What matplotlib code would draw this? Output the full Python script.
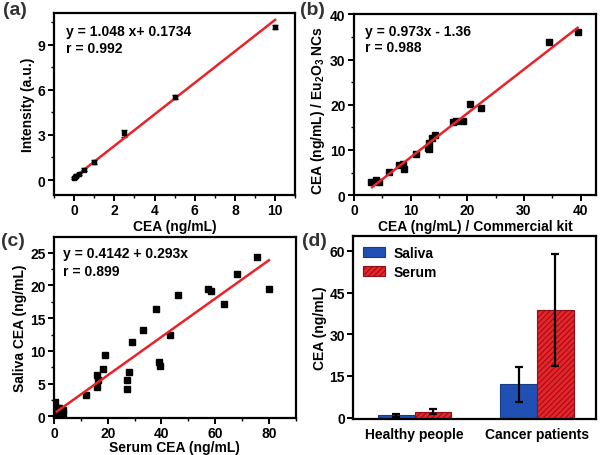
import matplotlib as mpl
import matplotlib.pyplot as plt
import numpy as np
from matplotlib.ticker import AutoMinorLocator

plt.rcParams['font.family'] = ['Liberation Sans', 'DejaVu Sans']
plt.rcParams['font.weight'] = 'bold'
plt.rcParams['axes.labelweight'] = 'bold'
plt.rcParams['mathtext.fontset'] = 'custom'
plt.rcParams['mathtext.bf'] = 'Liberation Sans:bold'
plt.rcParams['mathtext.rm'] = 'Liberation Sans:bold'
plt.rcParams['mathtext.default'] = 'bf'
plt.rcParams['font.size'] = 10
plt.rcParams['hatch.linewidth'] = 0.7

RED = '#e8242a'

# (a) calibration
a_x = [0, 0.05, 0.1, 0.25, 0.5, 1, 2.5, 5, 10]
a_y = [0.15, 0.22, 0.3, 0.4, 0.7, 1.22, 3.1, 5.52, 10.17]
a_err = [0.08, 0.08, 0.08, 0.08, 0.1, 0.12, 0.25, 0.15, 0.15]

# (b) method comparison
b_x = [2.95, 3.95, 4.4, 6.2, 8.0, 8.7, 8.85, 10.9, 13.0, 13.3, 13.2, 13.7,
       14.3, 17.5, 18.0, 19.2, 20.5, 22.4, 34.4, 39.5]
b_y = [2.8, 3.3, 3.0, 5.2, 6.7, 6.9, 5.8, 9.1, 10.4, 10.2, 11.6, 12.6,
       13.3, 16.1, 16.3, 16.4, 20.2, 19.3, 33.9, 36.2]

# (c) serum vs saliva
c_x = [75.4, 80.2, 68.2, 57.5, 58.5, 63.3, 46.3, 37.9, 33.3, 43.2, 29.2,
       18.9, 18.2, 16.0, 16.2, 16.0, 11.8, 27.9, 27.0, 27.0, 38.9, 39.4,
       0.5, 1.0, 1.5, 2.0, 2.5, 3.0, 3.5, 1.2, 0.8, 2.2, 3.2, 0.3, 1.8, 2.8]
c_y = [24.4, 19.4, 21.7, 19.5, 19.2, 17.2, 18.6, 16.4, 13.2, 12.4, 11.3,
       9.4, 7.3, 6.3, 5.6, 4.5, 3.2, 6.8, 5.5, 4.2, 8.3, 7.7,
       2.2, 1.2, 0.8, 1.2, 0.5, 0.7, 0.3, 0.3, 0.6, 0.2, 1.0, 0.1, 0.5, 0.2]

# (d) group means
groups = ['Healthy people', 'Cancer patients']
saliva = [0.8, 12.0]
saliva_err = [0.4, 6.4]
serum = [2.2, 38.7]
serum_err = [0.9, 20.1]

fig = plt.figure(figsize=(6, 4.56), dpi=100)
ax_a = fig.add_axes([0.09, 0.570, 0.402, 0.399])
ax_b = fig.add_axes([0.59, 0.570, 0.403, 0.397])
ax_c = fig.add_axes([0.09, 0.082, 0.403, 0.396])
ax_d = fig.add_axes([0.589, 0.080, 0.404, 0.400])

for ax in (ax_a, ax_b, ax_c, ax_d):
    for s in ax.spines.values():
        s.set_linewidth(1.6)
    ax.tick_params(direction='out', width=1.4, length=4, labelsize=10, pad=2)
    ax.tick_params(which='minor', direction='out', width=1.0, length=2.5)

# (a)
ax_a.errorbar(a_x, a_y, yerr=a_err, fmt='s', color='k', ms=3.5,
              capsize=2, elinewidth=1, capthick=1)
xx = np.array([0, 10])
ax_a.plot(xx, 1.048*xx+0.1734, color=RED, lw=1.8)
ax_a.set_xlim(-1, 11)
ax_a.set_ylim(-1, 11.1)
ax_a.set_xticks([0, 2, 4, 6, 8, 10])
ax_a.set_yticks([0, 3, 6, 9])
ax_a.xaxis.set_minor_locator(AutoMinorLocator(2))
ax_a.yaxis.set_minor_locator(AutoMinorLocator(2))
ax_a.set_xlabel('CEA (ng/mL)', labelpad=1)
ax_a.set_ylabel('Intensity (a.u.)', labelpad=2)
ax_a.text(0.05, 0.90, 'y = 1.048 x+ 0.1734', transform=ax_a.transAxes,
          va='center', fontsize=10)
ax_a.text(0.05, 0.81, 'r = 0.992', transform=ax_a.transAxes,
          va='center', fontsize=10)

# (b)
ax_b.plot(b_x, b_y, 's', color='k', ms=4)
xx = np.array([3.2, 39.5])
ax_b.plot(xx, 0.973*xx-1.36, color=RED, lw=1.8)
ax_b.set_xlim(0, 42.7)
ax_b.set_ylim(0, 40.1)
ax_b.set_xticks([0, 10, 20, 30, 40])
ax_b.set_yticks([0, 10, 20, 30, 40])
ax_b.xaxis.set_minor_locator(AutoMinorLocator(2))
ax_b.yaxis.set_minor_locator(AutoMinorLocator(2))
ax_b.set_xlabel('CEA (ng/mL) / Commercial kit', labelpad=1)
ax_b.set_ylabel('CEA (ng/mL) / Eu$_2$O$_3$ NCs', labelpad=2, y=0.47)
ax_b.text(0.045, 0.906, 'y = 0.973x - 1.36', transform=ax_b.transAxes,
          va='center', fontsize=10)
ax_b.text(0.045, 0.818, 'r = 0.988', transform=ax_b.transAxes,
          va='center', fontsize=10)

# (c)
ax_c.plot(c_x, c_y, 's', color='k', ms=4)
xx = np.array([1, 80])
ax_c.plot(xx, 0.4142+0.293*xx, color=RED, lw=1.8)
ax_c.set_xlim(0, 90)
ax_c.set_ylim(-0.2, 27.4)
ax_c.set_xticks([0, 20, 40, 60, 80])
ax_c.set_yticks([0, 5, 10, 15, 20, 25])
ax_c.xaxis.set_minor_locator(AutoMinorLocator(2))
ax_c.yaxis.set_minor_locator(AutoMinorLocator(2))
ax_c.set_xlabel('Serum CEA (ng/mL)', labelpad=0)
ax_c.set_ylabel('Saliva CEA (ng/mL)', labelpad=2)
ax_c.text(0.037, 0.913, 'y = 0.4142 + 0.293x', transform=ax_c.transAxes,
          va='center', fontsize=10)
ax_c.text(0.037, 0.81, 'r = 0.899', transform=ax_c.transAxes,
          va='center', fontsize=10)

# (d)
pos = np.arange(len(groups))
w = 0.3
ax_d.bar(pos - w/2, saliva, w, color='#2150b4', edgecolor='#1a3a86',
         lw=0.8, label='Saliva')
ax_d.bar(pos + w/2, serum, w, color=RED, edgecolor='#8e1016',
         lw=0.8, hatch='//////', label='Serum')
ax_d.errorbar(pos - w/2, saliva, yerr=saliva_err, fmt='none', ecolor='k',
              capsize=3, elinewidth=1.6, capthick=1.6)
ax_d.errorbar(pos + w/2, serum, yerr=serum_err, fmt='none', ecolor='k',
              capsize=3, elinewidth=1.6, capthick=1.6)
ax_d.set_xlim(-0.5, 1.48)
ax_d.set_ylim(-0.3, 65.3)
ax_d.set_yticks([0, 15, 30, 45, 60])
ax_d.set_xticks(pos)
ax_d.set_xticklabels(groups)
ax_d.tick_params(axis='x', length=0, pad=6)
ax_d.set_ylabel('CEA (ng/mL)', labelpad=2)
ax_d.legend(loc='upper left', frameon=False, fontsize=10, handlelength=1.6,
            handleheight=0.8, borderaxespad=0.3, labelspacing=0.35,
            handletextpad=0.6, bbox_to_anchor=(0.0, 1.0))

# panel letters
for lbl, x, y in [('(a)', 0.005, 0.995), ('(b)', 0.50, 0.995),
                  ('(c)', 0.002, 0.49), ('(d)', 0.503, 0.49)]:
    fig.text(x, y, lbl, fontsize=14, fontweight='bold', color='#333333',
             va='top', ha='left')

fig.savefig('out.png', dpi=100)
